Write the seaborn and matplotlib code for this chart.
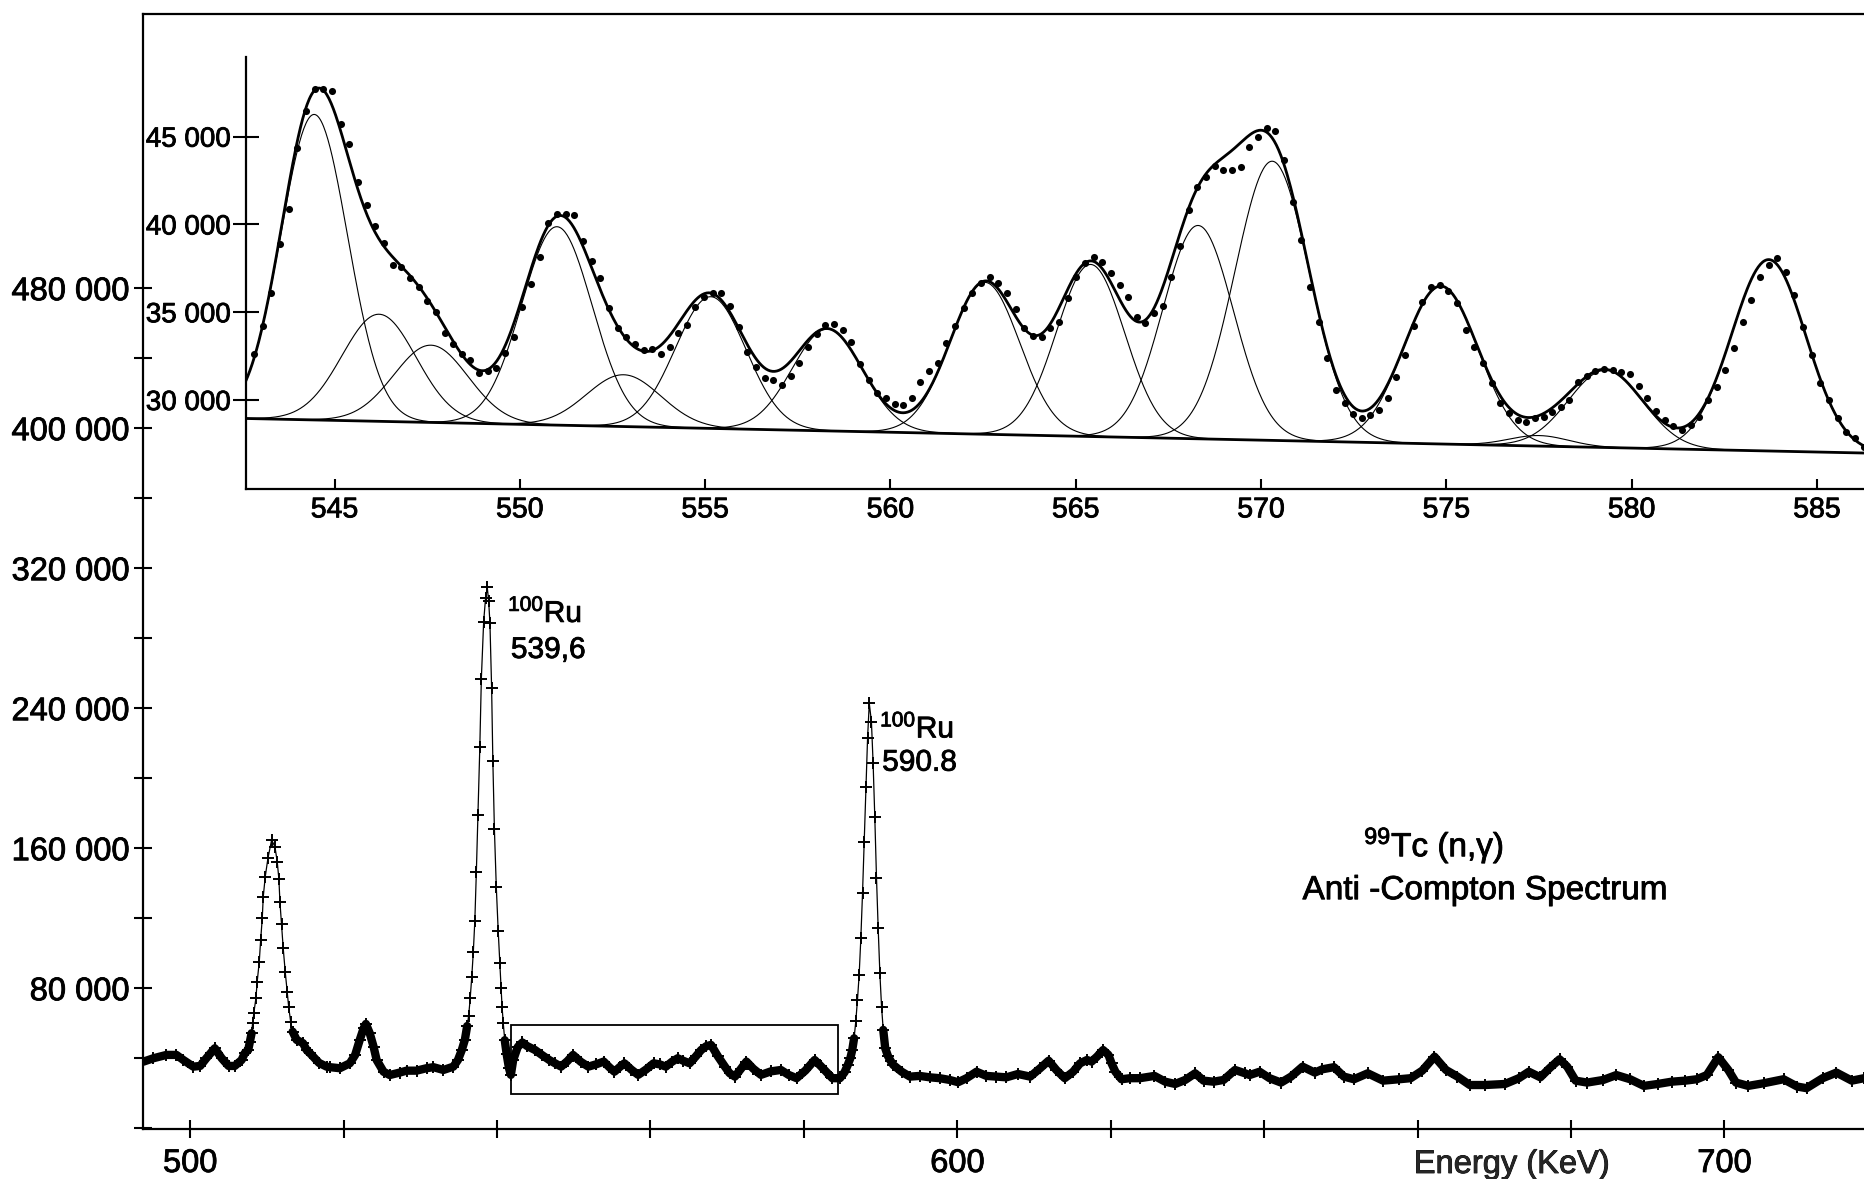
import numpy as np
import pandas as pd
import seaborn as sns
import matplotlib.pyplot as plt
import matplotlib.patheffects as pe
from matplotlib.patches import Rectangle
from matplotlib.text import Text

# ---- overview spectrum (lower panel), energy as drawn on its axis in keV ----
main_energy = [
    493.9, 495.2, 496.9, 498.2, 499.1, 500.4, 501.3, 502.1, 503.2, 504.1,
    505.0, 505.8, 506.7, 507.1, 507.56, 507.78, 508.0, 508.13, 508.3, 508.56,
    508.73, 509.0, 509.18, 509.39, 509.52, 509.78, 510.13, 510.61, 511.04, 511.34,
    511.56, 511.69, 511.9, 512.12, 512.38, 512.64, 512.83, 513.09, 513.35, 513.87,
    514.7, 515.17, 515.6, 516.8, 517.78, 518.2, 519.5, 520.8, 521.5, 522.1,
    522.6, 522.9, 523.4, 523.9, 524.3, 525.2, 526.0, 527.3, 528.2, 529.5,
    530.8, 531.7, 533.0, 534.3, 534.9, 535.4, 535.8, 536.1, 536.3, 536.5,
    536.7, 536.9, 537.1, 537.3, 537.5, 537.75, 537.95, 538.25, 538.5, 538.72,
    538.9, 539.07, 539.29, 539.45, 539.65, 539.9, 540.15, 540.35, 540.52, 540.65,
    540.8, 541.0, 541.25, 541.55, 541.8, 542.1, 542.7, 543.3, 543.9, 544.95,
    545.8, 546.8, 547.6, 548.35, 549.2, 549.9, 550.9, 551.9, 552.9, 553.9,
    554.6, 555.3, 556.0, 556.6, 557.5, 558.4, 559.4, 560.4, 561.2, 562.0,
    562.8, 563.55, 564.3, 565.1, 565.9, 566.6, 567.3, 567.9, 568.8, 569.7,
    570.3, 571.0, 571.8, 572.5, 573.4, 574.4, 575.7, 577.0, 578.0, 579.05,
    580.2, 581.4, 582.2, 582.9, 583.7, 584.7, 585.3, 585.7, 586.05, 586.3,
    586.54, 586.76, 586.98, 587.2, 587.42, 587.64, 587.86, 588.08, 588.3, 588.52,
    588.8, 589.02, 589.24, 589.46, 589.68, 589.9, 590.12, 590.34, 590.6, 590.95,
    591.3, 591.64, 592.74, 593.82, 595.1, 596.4, 597.7, 599.0, 600.1, 601.2,
    602.5, 603.8, 605.1, 606.4, 607.9, 609.5, 610.8, 611.9, 612.9, 614.0,
    615.1, 616.0, 616.9, 617.5, 618.2, 619.0, 619.7, 620.1, 620.6, 621.4,
    622.5, 623.8, 625.7, 627.1, 628.4, 629.7, 631.0, 632.1, 633.4, 634.7,
    636.2, 637.5, 638.1,
    639.4, 640.7, 642.2, 643.5, 645.0, 646.6, 647.6, 649.1, 650.4, 651.7,
    653.5, 655.5, 657.6, 659.1, 660.6, 662.2, 663.7, 665.2, 666.8, 668.8,
    671.4, 673.2, 674.5, 676.0, 677.2, 678.5, 679.5, 680.6, 682.1, 684.2,
    685.9, 687.7, 689.5, 691.3, 693.1, 694.9, 696.4, 697.7, 699.2, 700.5,
    701.5, 703.1, 705.1, 707.7, 709.5, 710.7, 712.8, 714.6, 716.6, 718.2, 720.0,
]
main_counts = [
    38050, 40000, 41900, 41900, 39000, 35200, 35600, 40000, 45700, 40000,
    35600, 35600, 39000, 42900, 44700, 49500, 54300, 60000, 66100, 74300,
    83800, 95200, 107600, 120000, 132300, 143800, 154300, 164700, 160900, 152300,
    142300, 129500, 116800, 102900, 89500, 78100, 69500, 60900, 55200, 50500,
    48600, 44700, 42900, 37300, 35200, 34900, 34300, 37100, 41900, 50500,
    57100, 59600, 54300, 46600, 39000, 32300, 30400, 31800, 32900, 32900,
    34300, 34900, 33300, 35200, 39000, 44700, 50500, 58400, 64400, 74500,
    86500, 100500, 118500, 146600, 178700, 217800, 256900, 289400, 303000, 309000,
    301400, 288600, 251300, 209800, 171100, 137600, 112500, 94500, 80400, 69400,
    60400, 50300, 42300, 34300, 30500, 39000, 46500, 49000, 47000, 44700,
    42000, 39000, 37000, 35200, 38500, 41900, 38000, 35200, 36500, 38100,
    35000, 32300, 35000, 37100, 33500, 30500, 33500, 37100, 36500, 35200,
    38000, 40000, 38500, 37100, 41000, 44700, 47000, 47600, 41000, 35200,
    31500, 29500, 34000, 38100, 34000, 30500, 32500, 33300, 30500, 28600,
    33000, 39000, 35500, 32300, 28600, 28600, 32000, 36000, 40000, 44700,
    51400, 61000, 73300, 87600, 108600, 134300, 163800, 195200, 223200, 242800,
    232300, 208600, 177700, 143200, 114300, 88600, 69500, 56200, 45700, 41300,
    38500, 36200, 32300, 29500, 29900, 29100, 28600, 27600, 26300, 28600,
    32300, 29900, 29500, 29100, 31000, 29500, 34300, 38600, 33300, 28600,
    32300, 37100, 39000, 38100, 40900, 44700, 41900, 37100, 32300, 28000,
    28600, 28600, 29900, 26600, 25300, 27600, 31400, 27200, 26600, 27600,
    33300, 31400, 30400,
    32300, 28600, 26100, 29500, 35200, 31800, 33700, 34900, 29500, 28000,
    31400, 27200, 28000, 28600, 32900, 40900, 33300, 29500, 24700, 24700,
    25300, 28600, 32300, 29100, 34300, 39400, 35200, 27200, 26100, 27600,
    30400, 28000, 24200, 25300, 26600, 27200, 28000, 30400, 40600, 33300,
    26100, 24200, 25700, 28000, 23800, 22900, 28600, 31800, 27200, 28600, 28000,
]

# box drawn round the region that is enlarged above
box_energy = [541.85, 584.5]
box_counts = [19430, 58850]

# ---- enlarged region (upper panel), one point per channel ----
zoom_start = 542.83
zoom_step = 0.2335
zoom_counts = [
    32620, 34210, 36110, 38880, 40860, 44330, 46480, 47690, 47690, 47620,
    45720, 44560, 42430, 41110, 39910, 38960, 37690, 37590, 36970, 36420,
    35660, 35030, 33830, 33190, 32620, 32280, 31560, 31670, 31800, 32690,
    33610, 35280, 36610, 38120, 40060, 40570, 40570, 40540, 39070, 37930,
    36930, 35220, 34080, 33570, 33190, 32850, 32890, 32620, 33040, 33800,
    34270, 35320, 35850, 36110, 36070, 35350, 34140, 32750, 31900, 31230,
    31140, 30850, 31370, 32090, 33000, 33760, 34270, 34330, 33990, 33320,
    32050, 31140, 30380, 30100, 29770, 29720, 30100, 31040, 31670,
    32090, 33270, 34210, 35220, 36070, 36640, 36990, 36640, 36070, 35160,
    34080, 33640, 33570, 34080, 34460, 35790, 37020, 37780, 38160, 37880,
    37250, 36550, 35880, 34740, 34370, 34940, 35350, 37020, 38770, 40820,
    42150, 42720, 43330, 43100, 43100, 43290, 44390, 44960, 45470, 45340,
    43670, 41290, 39110, 36420, 34460, 32370, 30570, 29810, 29200, 28960,
    29150, 29430, 30100, 31330, 32560, 34210, 35600, 36420, 36550, 36220,
    35510, 33990, 33040, 32090, 30950, 29850, 29240, 28860, 28770, 28960,
    29050, 29340, 29620, 30000, 31040, 31370, 31670, 31750, 31710, 31610,
    31480, 30800, 30100, 29390, 28860, 28520, 28290, 28580, 29050, 30000,
    30760, 31710, 32940, 34460, 35700, 37020, 37690, 38070, 37310, 35980,
    34170, 32560, 30950, 30000, 28960, 28200, 27820, 27340,
]

# fitted lines: centre (keV), height over background, sigma (keV)
peak_centre = [544.45, 546.2, 547.6, 551.0, 552.8, 555.15, 558.3, 562.55,
               565.4, 568.3, 570.3, 574.85, 577.5, 579.3, 583.7]
peak_height = [17400, 6100, 4400, 11300, 2950, 7500, 5800, 8650,
               9800, 12150, 15900, 8990, 600, 4400, 10900]
peak_sigma = [0.9, 1.0, 1.0, 0.95, 1.0, 0.95, 0.95, 0.94,
              0.92, 0.95, 1.0, 1.0, 0.8, 1.0, 1.0]

# linear background under the fit
bg_energy = [542.6, 587.0]
bg_counts = [28950, 26950]

main_yticks = [80000, 160000, 240000, 320000, 400000, 480000]
main_ylabels = ["80 000", "160 000", "240 000", "320 000", "400 000", "480 000"]
main_xticks = [500, 600, 700]
zoom_xticks = [545, 550, 555, 560, 565, 570, 575, 580, 585]
zoom_yticks = [30000, 35000, 40000, 45000]
zoom_ylabels = ["30 000", "35 000", "40 000", "45 000"]

sns.set_style("ticks")
font = ["Liberation Sans", "DejaVu Sans"]
plt.rcParams["font.family"] = font
plt.rcParams["mathtext.fontset"] = "custom"
plt.rcParams["mathtext.rm"] = "Liberation Sans"
plt.rcParams["mathtext.it"] = "Liberation Sans:italic"
plt.rcParams["mathtext.bf"] = "Liberation Sans:bold"
plt.rcParams["axes.edgecolor"] = "k"
plt.rcParams["text.color"] = "k"
plt.rcParams["xtick.color"] = "k"
plt.rcParams["ytick.color"] = "k"

fig = plt.figure(figsize=(18.65, 11.79), dpi=100)

# ---- lower panel ----
ax = fig.add_axes([0.0765, 0.0422, 0.9304, 0.946])
spec = pd.DataFrame({"energy": main_energy, "counts": main_counts})
spec["seg"] = (spec["counts"] >= 60000).cumsum()
band = spec[spec["counts"] < 60000]
# the dense run of markers along the floor reads as one heavy band
sns.lineplot(data=band, x="energy", y="counts", units="seg", estimator=None,
             color="k", lw=6.0, ax=ax, legend=False)
sns.lineplot(data=spec, x="energy", y="counts", estimator=None, sort=False,
             color="k", lw=0.9, marker="+", markersize=9,
             markeredgewidth=1.4, markeredgecolor="k", ax=ax)
ax.add_patch(Rectangle((box_energy[0], box_counts[0]),
                       box_energy[1] - box_energy[0], box_counts[1] - box_counts[0],
                       fill=False, lw=1.3, ec="k"))

ax.set_xlim(493.8, 720.0)
ax.set_ylim(-571, 636700)
ax.set_xticks(main_xticks, [str(t) for t in main_xticks], fontsize=23.5)
ax.set_xticks(list(range(500, 721, 20)), minor=True)
ax.set_yticks(main_yticks, main_ylabels, fontsize=23.5)
ax.set_yticks(list(range(0, 480001, 40000)), minor=True)
ax.tick_params(which="both", direction="inout", length=13, width=1.5)
ax.tick_params(axis="x", which="both", pad=7)
ax.tick_params(axis="y", which="both", pad=3)
for s in ax.spines.values():
    s.set_linewidth(1.6)
ax.set_ylabel("")
ax.set_xlabel("Energy (KeV)", fontsize=23.5)
ax.xaxis.set_label_coords(0.789, -0.0177)

ax.text(541.4, 289300, r"$^{100}$Ru", fontsize=21.5, va="baseline")
ax.text(541.8, 268700, "539,6", fontsize=21.5, va="baseline")
ax.text(589.9, 223300, r"$^{100}$Ru", fontsize=21.5, va="baseline")
ax.text(590.2, 204300, "590.8", fontsize=21.5, va="baseline")
ax.text(653.0, 155400, r"$^{99}$Tc (n,γ)", fontsize=24, va="baseline")
ax.text(645.0, 130900, "Anti -Compton Spectrum", fontsize=24, va="baseline")

# ---- upper panel: enlarged part with fitted lines ----
ax2 = fig.add_axes([0.1317, 0.5852, 0.8823, 0.3664])
ax2.set_facecolor("none")
ax2.spines[["top", "right"]].set_visible(False)
for s in ax2.spines.values():
    s.set_linewidth(1.6)

zoom_energy = zoom_start + zoom_step * np.arange(len(zoom_counts))
grid = np.linspace(542.6, 587.0, 1500)
bg_grid = np.interp(grid, bg_energy, bg_counts)
total = bg_grid.copy()
for c, h, sg in zip(peak_centre, peak_height, peak_sigma):
    shape = h * np.exp(-0.5 * ((grid - c) / sg) ** 2)
    total += shape
    keep = np.abs(grid - c) < 4.2 * sg
    sns.lineplot(x=grid[keep], y=(bg_grid + shape)[keep], estimator=None,
                 color="k", lw=0.8, ax=ax2)
sns.lineplot(x=bg_energy, y=bg_counts, estimator=None, color="k", lw=2.0, ax=ax2)
sns.lineplot(x=grid, y=total, estimator=None, color="k", lw=2.0, ax=ax2)
sns.scatterplot(x=zoom_energy, y=zoom_counts, color="k", s=26, marker="o",
                edgecolor="k", linewidth=0, ax=ax2, zorder=3)

ax2.set_xlim(542.6, 587.0)
ax2.set_ylim(24931, 49534)
ax2.set_xticks(zoom_xticks, [str(t) for t in zoom_xticks], fontsize=20.5)
ax2.set_yticks(zoom_yticks, zoom_ylabels, fontsize=20)
ax2.tick_params(axis="x", direction="in", length=7, width=1.5, pad=6)
ax2.tick_params(axis="y", direction="inout", length=19, width=1.5, pad=1)
ax2.set_xlabel("")
ax2.set_ylabel("")

# the lettering in the print is a little heavier than a plain regular face
fig.canvas.draw()
for t in fig.findobj(Text):
    t.set_path_effects([pe.withStroke(linewidth=0.6, foreground="k")])

fig.savefig("out.png", dpi=100)
